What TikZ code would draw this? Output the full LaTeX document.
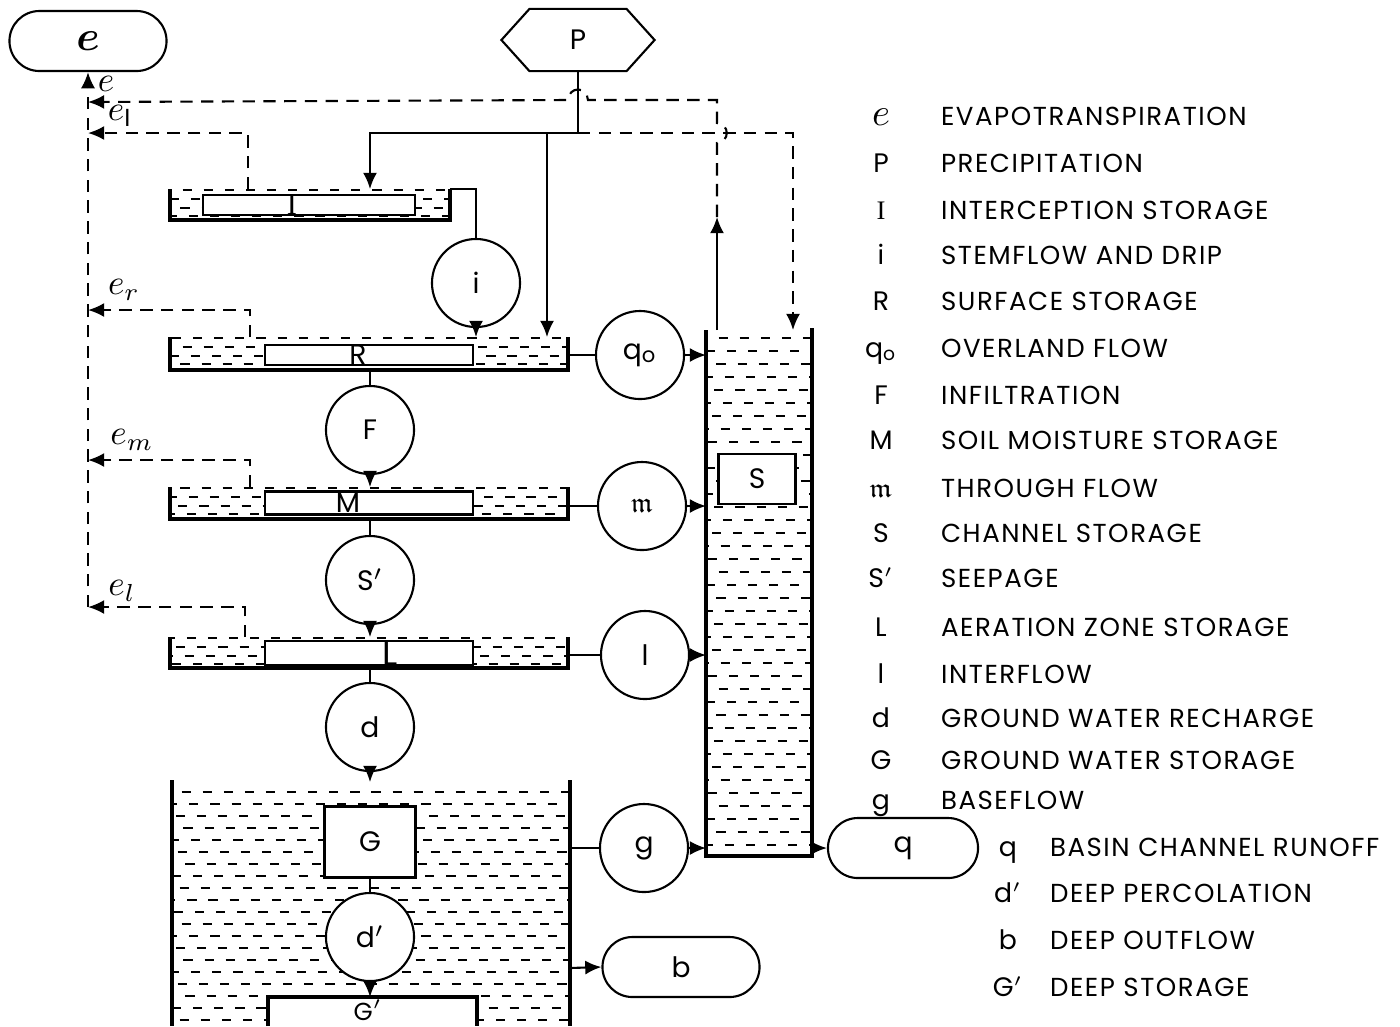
\documentclass[tikz,border=0pt]{standalone}
\usepackage{amsmath,amssymb}
\usepackage{fontspec}
\setmainfont{Poppins}
\newfontfamily\serifface{Liberation Serif}
\newfontfamily\lgdface{Poppins}[LetterSpace=6]
\usetikzlibrary{arrows.meta,positioning,calc}

\begin{document}
\begin{tikzpicture}[x=0.01cm,y=-0.01cm,
    font=\fontsize{8}{9}\selectfont,
    line width=0.6pt,
    flux/.style={circle,draw,fill=white,minimum size=0.88cm,inner sep=0pt},
    stor/.style={draw,fill=white,inner sep=0pt,minimum height=0.2cm},
    term/.style={draw,fill=white,rounded corners=0.3cm,minimum height=0.6cm,inner sep=0pt},
    arr/.style={-{Latex[length=4.6pt,width=4pt]}},
    evap/.style={dash pattern=on 3.5pt off 2.4pt},
    water/.style={line width=0.5pt,dash pattern=on 2.6pt off 3.4pt},
    wall/.style={line width=0.9pt},
    sym/.style={anchor=base,inner sep=0pt,font=\fontsize{7.6}{9}\selectfont},
    lgd/.style={anchor=base west,inner sep=0pt,font=\lgdface\fontsize{7.4}{9}\selectfont},
    elab/.style={font=\fontsize{10}{10}\selectfont,inner sep=0pt},
  ]
  \path[use as bounding box,fill=white] (0,0) rectangle (1400,1026);

  % tank walls
  \draw[wall] (170,189) |- (450,220) -- (450,189);
  \draw[wall] (170,337) |- (568,370) -- (568,337);
  \draw[wall] (170,487) |- (568,519) -- (568,487);
  \draw[wall] (170,637) |- (568,668) -- (568,637);
  \draw[wall] (172,780) -- (172,1026);
  \draw[wall] (570,780) -- (570,1026);
  \draw[wall] (706,330) |- (812,856) -- (812,328);

  % water
  \foreach \ya/\xr in {189/448, 337/566, 487/566, 637/566} {
    \foreach \dy [count=\k] in {1,10,19,27} {
      \pgfmathsetmacro\ph{mod(\k*5+\ya,9)*0.6}
      \draw[water,dash phase=\ph pt] (172,\ya+\dy) -- (\xr,\ya+\dy);
    }
  }
  \foreach \yy [count=\k] in {792,804,...,1020} {
    \pgfmathsetmacro\ph{mod(\k*7,11)*0.55}
    \draw[water,dash phase=\ph pt] (174,\yy) -- (568,\yy);
  }
  \foreach \yy [count=\k] in {338,351,...,850} {
    \pgfmathsetmacro\ph{mod(\k*5,9)*0.6}
    \draw[water,dash phase=\ph pt] (708,\yy) -- (810,\yy);
  }

  % storages
  \node[stor,minimum width=2.12cm,label={[xshift=-0.17cm,font=\serifface\fontsize{8.6}{9}\selectfont]center:I}] (ibox) at (309,205) {};
  \node[stor,minimum width=2.08cm,label={[xshift=-0.11cm]center:R}] (rbox) at (369,355) {};
  \node[stor,minimum width=2.08cm,minimum height=0.23cm,label={[xshift=-0.21cm]center:M}] (mbox) at (369,503) {};
  \node[stor,minimum width=2.08cm,minimum height=0.24cm,label={[xshift=0.21cm,font=\fontsize{10}{10}\selectfont]center:L}] (lbox) at (369,653) {};
  \node[stor,minimum width=0.91cm,minimum height=0.71cm] (gbox) at (370,842) {G};
  \node[stor,minimum width=0.77cm,minimum height=0.5cm] (sbox) at (757,479) {S};
  \path[fill=white] (268,997) rectangle (477,1026);
  \draw[wall] (268,1026) |- (477,997) -- (477,1026);
  \node[inner sep=0pt,font=\fontsize{7}{8}\selectfont] (gplab) at (368,1010) {G$'$};

  % terminals
  \node[term,minimum width=1.57cm,font=\fontsize{12}{12}\selectfont] (etot) at (88,41) {$\boldsymbol{e}$};
  \node[minimum width=1.51cm,minimum height=0.6cm] (prec) at (578,40) {P};
  \draw (prec.west) -- ([xshift=0.28cm]prec.north west) -- ([xshift=-0.28cm]prec.north east)
    -- (prec.east) -- ([xshift=-0.28cm]prec.south east) -- ([xshift=0.28cm]prec.south west) -- cycle;
  \node[term,minimum width=1.5cm] (qterm) at (903,848) {q};
  \node[term,minimum width=1.57cm] (bterm) at (681,967) {b};

  % fluxes
  \node[flux] (i) at (476,283) {i};
  \node[flux] (qo) at (640,355) {q\textsubscript{o}};
  \node[flux] (F) at (370,430) {F};
  \node[flux] (m) at (642,506) {$\mathfrak{m}$};
  \node[flux] (sp) at (370,580) {S$'$};
  \node[flux] (l) at (645,655) {l};
  \node[flux] (d) at (370,727) {d};
  \node[flux] (g) at (644,848) {g};
  \node[flux] (dp) at (370,937) {d$'$};

  % junctions
  \coordinate (pj) at (578,133);
  \coordinate (pjI) at (370,133);
  \coordinate (Itop) at (370,189);
  \coordinate (pjR) at (547,133);
  \coordinate (Rtop) at (547,337);
  \coordinate (pjS) at (793,133);
  \coordinate (Stop) at (793,330);
  \coordinate (Sup) at (717,330);
  \coordinate (Sarr) at (717,217);
  \coordinate (Iout) at (450,189);
  \coordinate (Rtop2) at (476,337);
  \coordinate (Rbot) at (370,370);
  \coordinate (Mtop) at (370,487);
  \coordinate (Mbot) at (370,519);
  \coordinate (Ltop) at (370,637);
  \coordinate (Lbot) at (370,668);
  \coordinate (Gtop) at (370,782);
  \coordinate (Gptop) at (370,997);
  \coordinate (eI) at (248,189);
  \coordinate (eR) at (250,337);
  \coordinate (eM) at (250,487);
  \coordinate (eL) at (245,637);
  \coordinate (ecS) at (88,102);
  \coordinate (ecI) at (88,133);
  \coordinate (ecR) at (88,310);
  \coordinate (ecM) at (88,460);
  \coordinate (ecL) at (88,607);

  % precipitation
  \draw (prec.south) -- (pj);
  \draw[arr] (pj) -- (pjI) -- (Itop);
  \draw[arr] (pjR) -- (Rtop);
  \draw[evap,arr] (pj) -- (pjS) -- (Stop);

  % evapotranspiration
  \draw[arr] (Sup) -- (Sarr);
  \draw[evap,arr] (Sarr) -- (717,143) .. controls (730,142) and (730,124) .. (717,123) -- (717,100)
    -- (588,100) .. controls (587,86) and (569,86) .. (568,100) -- (ecS);
  \draw[evap,arr] (eI) |- (ecI);
  \draw[evap,arr] (eR) |- (ecR);
  \draw[evap,arr] (eM) |- (ecM);
  \draw[evap,arr] (eL) |- (ecL);
  \draw[evap,arr] (ecL) -- (etot.south);
  \node[elab] (letot) at (106,84) {$e$};
  \node[elab] (leI) at (120,116) {$e_{\mathrm{I}}$};
  \node[elab] (leR) at (124,290) {$e_r$};
  \node[elab] (leM) at (132,440) {$e_m$};
  \node[elab] (leL) at (122,591) {$e_l$};

  % vertical flows
  \draw (Iout) -| (i.north);
  \draw[arr] (i.south) -- (Rtop2);
  \draw (Rbot) -- (F.north);
  \draw[arr] (F.south) -- (Mtop);
  \draw (Mbot) -- (sp.north);
  \draw[arr] (sp.south) -- (Ltop);
  \draw (Lbot) -- (d.north);
  \draw[arr] (d.south) -- (Gtop);
  \draw (gbox.south) -- (dp.north);
  \draw[arr] (dp.south) -- (Gptop);

  % lateral flows
  \draw (568,355) -- (qo.west);
  \draw[arr] (qo.east) -- (706,355);
  \draw (568,506) -- (m.west);
  \draw[arr] (m.east) -- (706,506);
  \draw (568,655) -- (l.west);
  \draw[arr] (l.east) -- (706,655);
  \draw (570,848) -- (g.west);
  \draw[arr] (g.east) -- (706,848);
  \draw[arr] (812,848) -- (qterm.west);
  \draw[arr] (570,968) -- (bterm.west);

  % legend
  \foreach \sy/\tx/\yy [count=\k] in {{\fontsize{11}{11}\selectfont$e$}/EVAPOTRANSPIRATION/116, P/PRECIPITATION/163,
      {\serifface I}/INTERCEPTION STORAGE/210, i/STEMFLOW AND DRIP/255, R/SURFACE STORAGE/301,
      {q\textsubscript{o}}/OVERLAND FLOW/348, F/INFILTRATION/395, M/SOIL MOISTURE STORAGE/440,
      {$\mathfrak{m}$}/THROUGH FLOW/488, S/CHANNEL STORAGE/533, {S$'$}/SEEPAGE/578,
      L/AERATION ZONE STORAGE/627, l/INTERFLOW/674, d/GROUND WATER RECHARGE/718,
      G/GROUND WATER STORAGE/760, g/BASEFLOW/800} {
    \node[sym] (lsym\k) at (881,\yy+9) {\sy};
    \node[lgd] (ltxt\k) at (940,\yy+9) {\tx};
  }
  \foreach \sy/\tx/\yy [count=\k] in {q/BASIN CHANNEL RUNOFF/847, {d$'$}/DEEP PERCOLATION/893,
      b/DEEP OUTFLOW/940, {G$'$}/DEEP STORAGE/987} {
    \node[sym] (rsym\k) at (1008,\yy+9) {\sy};
    \node[lgd] (rtxt\k) at (1049,\yy+9) {\tx};
  }
\end{tikzpicture}
\end{document}
